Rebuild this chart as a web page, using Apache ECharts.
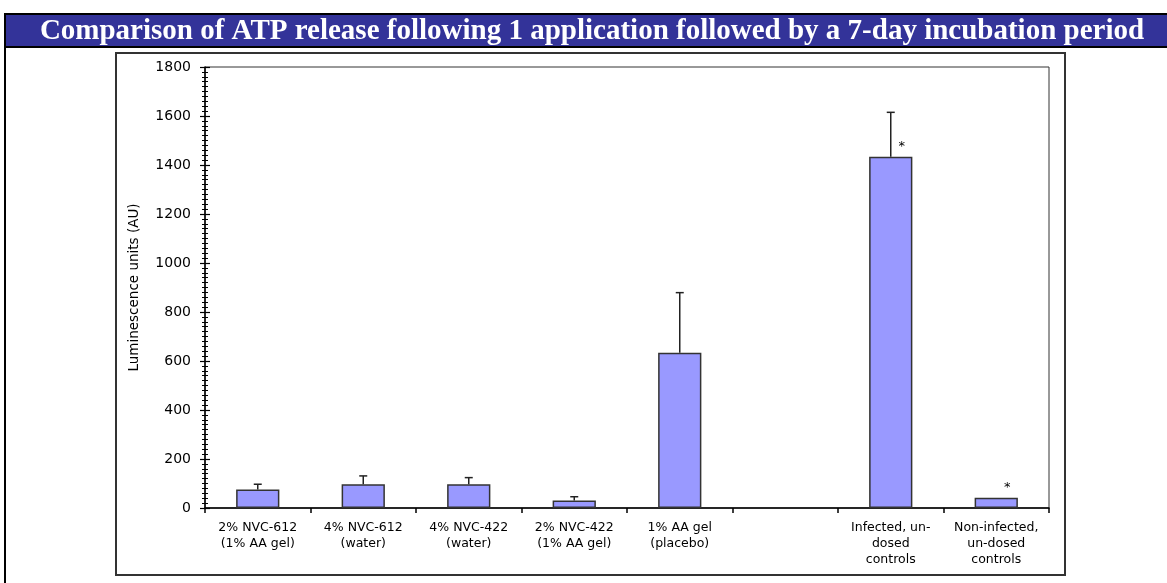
<!DOCTYPE html>
<html>
<head>
<meta charset="utf-8">
<script src="https://cdn.jsdelivr.net/npm/echarts@6/dist/echarts.min.js"></script>
<style>
html,body{margin:0;padding:0;background:#fff;}
#chart{width:1167px;height:583px;}
</style>
</head>
<body>
<div id="chart"></div>
<script>
const titleText = 'Comparison of ATP release following 1 application followed by a 7-day incubation period';
const yAxisName = 'Luminescence units (AU)';
const categories = [
  '2% NVC-612\n(1% AA gel)',
  '4% NVC-612\n(water)',
  '4% NVC-422\n(water)',
  '2% NVC-422\n(1% AA gel)',
  '1% AA gel\n(placebo)',
  '',
  'Infected, un-\ndosed\ncontrols',
  'Non-infected,\nun-dosed\ncontrols'
];
const meanValues = [76, 97, 97, 31, 634, null, 1434, 42];
const errorValues = [21, 34, 27, 15, 245, null, 181, null];
const significance = ['', '', '', '', '', '', '*', '*'];
const yMin = 0, yMax = 1800, yInterval = 200;

const chart = echarts.init(document.getElementById('chart'), null, {renderer: 'canvas'});

const errData = meanValues.map((v, i) => (v == null || errorValues[i] == null) ? null : [i, v, v + errorValues[i]]).filter(d => d);

const option = {
  animation: false,
  backgroundColor: '#ffffff',
  grid: {left: 205, right: 118, top: 67, bottom: 75, show: true, borderColor: '#333', borderWidth: 1, backgroundColor: 'transparent'},
  xAxis: {
    type: 'category',
    data: categories,
    boundaryGap: true,
    axisLine: {lineStyle: {color: '#000', width: 1.5}},
    axisTick: {show: true, length: 5, lineStyle: {color: '#000', width: 1.5}},
    axisLabel: {color: '#000', fontFamily: 'DejaVu Sans', fontSize: 12.5, lineHeight: 16, margin: 12, interval: 0}
  },
  yAxis: [{
    type: 'value',
    min: yMin, max: yMax, interval: yInterval,
    name: yAxisName,
    nameLocation: 'middle',
    nameGap: 64,
    nameTextStyle: {color: '#000', fontFamily: 'DejaVu Sans', fontSize: 13.5},
    axisLine: {show: true, lineStyle: {color: '#000', width: 1.5}},
    axisTick: {show: true, length: 5, lineStyle: {color: '#000', width: 1.2}},
    minorTick: {show: true, splitNumber: 10, length: 3, lineStyle: {color: '#000', width: 1}},
    splitLine: {show: false},
    axisLabel: {color: '#000', fontFamily: 'DejaVu Sans', fontSize: 14, margin: 14, formatter: v => String(v)}
  }, {
    type: 'value',
    position: 'left',
    offset: 0,
    min: yMin, max: yMax, interval: yInterval,
    axisLine: {show: false},
    axisTick: {show: true, inside: true, length: 5, lineStyle: {color: '#000', width: 1.2}},
    minorTick: {show: true, splitNumber: 10, length: 3, lineStyle: {color: '#000', width: 1}},
    splitLine: {show: false},
    axisLabel: {show: false}
  }],
  series: [{
    type: 'bar',
    data: meanValues.map((v, i) => ({
      value: v,
      label: {show: !!significance[i], formatter: significance[i]}
    })),
    barWidth: '41%',
    itemStyle: {color: '#9999ff', borderColor: '#333', borderWidth: 1.5},
    label: {position: 'top', distance: 4, offset: [11, 0], color: '#000', fontFamily: 'DejaVu Sans', fontSize: 13},
    z: 2
  }, {
    type: 'custom',
    data: errData,
    renderItem: function (params, api) {
      const x = api.value(0);
      const base = api.coord([x, api.value(1)]);
      const top = api.coord([x, api.value(2)]);
      const cap = 4;
      const st = {stroke: '#222', lineWidth: 1.5};
      return {type: 'group', children: [
        {type: 'line', shape: {x1: base[0], y1: base[1], x2: top[0], y2: top[1]}, style: st},
        {type: 'line', shape: {x1: top[0] - cap, y1: top[1], x2: top[0] + cap, y2: top[1]}, style: st}
      ]};
    },
    z: 3
  }],
  graphic: [
    {type: 'rect', shape: {x: 5, y: 14, width: 1170, height: 33}, style: {fill: '#333399', stroke: '#000', lineWidth: 2}, z: 1},
    {type: 'line', shape: {x1: 5, y1: 14, x2: 5, y2: 583}, style: {stroke: '#000', lineWidth: 2}, z: 2},
    {type: 'text', x: 592, y: 32, style: {text: titleText, fill: '#fff', font: 'bold 29px "Liberation Serif"', textAlign: 'center', textVerticalAlign: 'middle'}, z: 3},
    {type: 'rect', shape: {x: 116, y: 53, width: 949, height: 522}, style: {fill: 'none', stroke: '#333', lineWidth: 2}, z: 0}
  ]
};
chart.setOption(option);
</script>
</body>
</html>
